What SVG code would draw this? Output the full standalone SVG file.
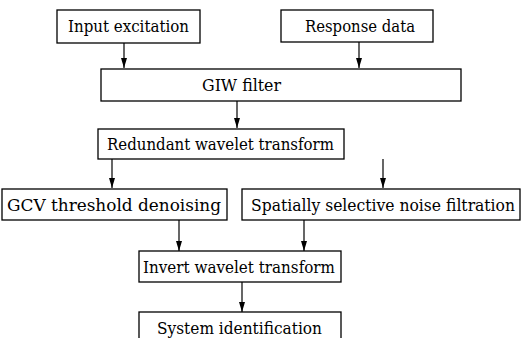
<svg xmlns="http://www.w3.org/2000/svg" width="521" height="338" viewBox="0 0 521 338">
<defs>
<marker id="ah" markerWidth="10" markerHeight="6" refX="10" refY="3" orient="auto" markerUnits="userSpaceOnUse" viewBox="0 0 10 6">
<path d="M0,0 L10,3 L0,6 Z" fill="#000"/>
</marker>
</defs>
<style>
.box{fill:#fff;stroke:#000;stroke-width:1.3}
.t{font-family:'DejaVu Serif',serif;font-size:16px;fill:#000;text-anchor:middle}
.c line{stroke:#000;stroke-width:1.2}
</style>
<rect x="0" y="0" width="521" height="338" fill="#fff"/>
<g class="c" id="connectors">
<line x1="124" y1="43" x2="124" y2="68" marker-end="url(#ah)"/>
<line x1="359" y1="42" x2="359" y2="68" marker-end="url(#ah)"/>
<line x1="237" y1="101" x2="237" y2="128" marker-end="url(#ah)"/>
<line x1="112" y1="159" x2="112" y2="188" marker-end="url(#ah)"/>
<line x1="383" y1="159" x2="383" y2="188" marker-end="url(#ah)"/>
<line x1="179" y1="220" x2="179" y2="251" marker-end="url(#ah)"/>
<line x1="304" y1="220" x2="304" y2="251" marker-end="url(#ah)"/>
<line x1="242" y1="282" x2="242" y2="312" marker-end="url(#ah)"/>
</g>
<g id="input"><rect class="box" x="57" y="10" width="143" height="33"/><text class="t" x="128.5" y="32" textLength="121" lengthAdjust="spacingAndGlyphs">Input excitation</text></g>
<g id="response"><rect class="box" x="281" y="10" width="152" height="32"/><text class="t" x="360" y="32" textLength="110" lengthAdjust="spacingAndGlyphs">Response data</text></g>
<g id="giw"><rect class="box" x="101" y="69" width="360" height="32"/><text class="t" x="241.5" y="91" textLength="79" lengthAdjust="spacingAndGlyphs">GIW filter</text></g>
<g id="redundant"><rect class="box" x="98" y="129" width="246" height="30"/><text class="t" x="220.5" y="150" textLength="227" lengthAdjust="spacingAndGlyphs">Redundant wavelet transform</text></g>
<g id="gcv"><rect class="box" x="2" y="189" width="225" height="31"/><text class="t" x="114" y="211" textLength="214" lengthAdjust="spacingAndGlyphs">GCV threshold denoising</text></g>
<g id="spatial"><rect class="box" x="242" y="189" width="278" height="31"/><text class="t" x="383" y="211" textLength="264" lengthAdjust="spacingAndGlyphs">Spatially selective noise filtration</text></g>
<g id="invert"><rect class="box" x="139" y="251" width="202" height="31"/><text class="t" x="239" y="273" textLength="192" lengthAdjust="spacingAndGlyphs">Invert wavelet transform</text></g>
<g id="system"><rect class="box" x="139" y="312" width="202" height="30"/><text class="t" x="239.5" y="334" textLength="165" lengthAdjust="spacingAndGlyphs">System identification</text></g>
</svg>
